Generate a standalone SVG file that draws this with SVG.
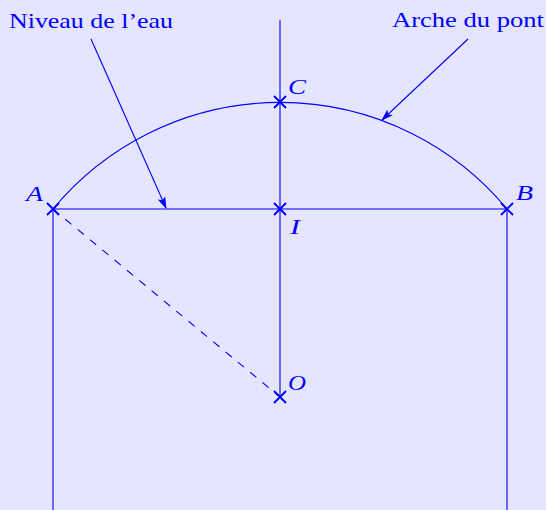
<svg xmlns="http://www.w3.org/2000/svg" width="546" height="510" viewBox="0 0 546 510">
<defs>
<style>
.ln{stroke:#0000FF;stroke-width:1.1;fill:none}
.cr{stroke:#0000FF;stroke-width:1.8;fill:none}
.lbl{font-family:"Liberation Serif","Times New Roman",serif;fill:#0000FF;font-size:22px}
.pt{font-family:"Liberation Serif","Times New Roman",serif;font-style:italic;fill:#0000FF;font-size:22px}
</style>
<marker id="ah" viewBox="0 0 12 8" refX="11" refY="4" markerWidth="12" markerHeight="8" markerUnits="userSpaceOnUse" orient="auto">
<path d="M0,0 L12,4 L0,8 L2.5,4 Z" fill="#0000FF"/>
</marker>
</defs>
<rect width="546" height="510" fill="#E5E5FF"/>
<g id="connectors">
<path class="ln" d="M53,209 A295,295 0 0 1 507,209"/>
<line class="ln" x1="53" y1="209" x2="507" y2="209"/>
<line class="ln" x1="280" y1="20" x2="280" y2="397"/>
<line class="ln" x1="53" y1="209" x2="53" y2="510"/>
<line class="ln" x1="507" y1="209" x2="507" y2="510"/>
<line class="ln" x1="53" y1="209" x2="280" y2="397" stroke-dasharray="8 8"/>
<line class="ln" x1="91" y1="39" x2="166" y2="208" marker-end="url(#ah)"/>
<line class="ln" x1="468" y1="39" x2="382" y2="120" marker-end="url(#ah)"/>
</g>
<g id="A"><path class="cr" d="M47,203 L59,215 M59,203 L47,215"/><text class="pt" x="26" y="201" textLength="17" lengthAdjust="spacingAndGlyphs">A</text></g>
<g id="B"><path class="cr" d="M501,203 L513,215 M513,203 L501,215"/><text class="pt" x="516" y="200" textLength="17" lengthAdjust="spacingAndGlyphs">B</text></g>
<g id="C"><path class="cr" d="M274,96 L286,108 M286,96 L274,108"/><text class="pt" x="288" y="94" textLength="18" lengthAdjust="spacingAndGlyphs">C</text></g>
<g id="I"><path class="cr" d="M274,203 L286,215 M286,203 L274,215"/><text class="pt" x="290" y="234" textLength="10" lengthAdjust="spacingAndGlyphs">I</text></g>
<g id="O"><path class="cr" d="M274,391 L286,403 M286,391 L274,403"/><text class="pt" x="288" y="390" textLength="18" lengthAdjust="spacingAndGlyphs">O</text></g>
<g id="label-niveau"><text class="lbl" x="9" y="28" textLength="164" lengthAdjust="spacingAndGlyphs">Niveau de l’eau</text></g>
<g id="label-arche"><text class="lbl" x="392" y="27" textLength="152" lengthAdjust="spacingAndGlyphs">Arche du pont</text></g>
</svg>
